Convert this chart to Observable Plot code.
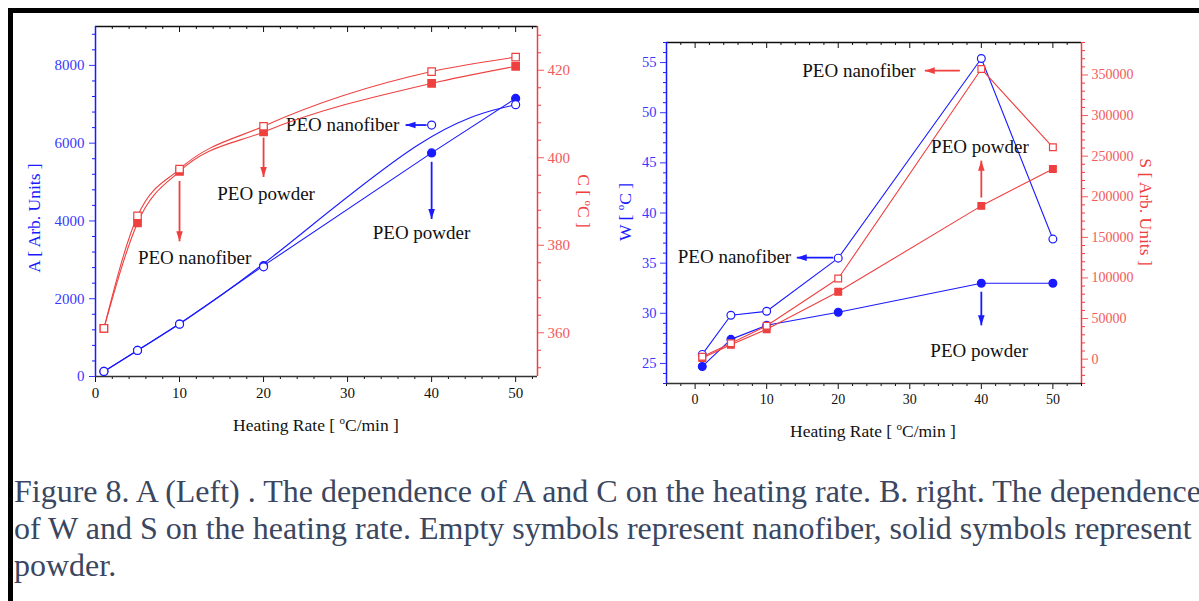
<!DOCTYPE html>
<html><head><meta charset="utf-8">
<script src="https://cdn.jsdelivr.net/npm/d3@7"></script>
<script src="https://cdn.jsdelivr.net/npm/@observablehq/plot@0.6"></script>
<style>
html,body{margin:0;padding:0;background:#fff;overflow:hidden;width:1199px;height:601px;}
#frame{position:absolute;left:8px;top:8px;width:1300px;height:700px;border-top:5px solid #000;border-left:5px solid #000;}
.panel{position:absolute;top:0;height:450px;}
.panel svg{position:absolute;left:0;top:0;}
#caption{position:absolute;left:14px;top:473px;font-family:"Liberation Serif";font-size:32px;line-height:37px;color:#3b4660;white-space:nowrap;}
</style></head><body>
<div id="frame"></div>
<div id="left" class="panel" style="left:0;width:600px"></div>
<div id="right" class="panel" style="left:600px;width:599px"></div>
<div id="caption"><div>Figure 8. A (Left) . The dependence of A and C on the heating rate. B. right. The dependence</div><div>of W and S on the heating rate. Empty symbols represent nanofiber, solid symbols represent</div><div>powder.</div></div>
<script>
// ---------- data ----------
const rates = [1, 5, 10, 20, 40, 50];
// left panel: A (left axis) and C (right axis)
const aNanofiber = [130, 670, 1345, 2820, 6466, 6990];
const aPowder    = [130, 670, 1350, 2850, 5750, 7150];
const cNanofiber = [361.0, 386.7, 397.4, 407.2, 419.7, 423.0];
const cPowder    = [361.0, 385.1, 396.9, 405.9, 417.0, 420.9];
// right panel: W (left axis) and S (right axis)
const wNanofiber = [25.9, 29.8, 30.2, 35.5, 55.4, 37.4];
const wPowder    = [24.7, 27.4, 28.8, 30.1, 33.0, 33.0];
const sNanofiber = [3000, 19700, 41100, 99300, 357400, 260900];
const sPowder    = [1500, 17700, 36900, 82900, 188800, 234300];

// ticks
const xTicks = [0, 10, 20, 30, 40, 50];
const aTicks = [0, 2000, 4000, 6000, 8000];
const cTicks = [360, 380, 400, 420];
const wTicks = [25, 30, 35, 40, 45, 50, 55];
const sTicks = [0, 50000, 100000, 150000, 200000, 250000, 300000, 350000];

// annotations (data coordinates of each layer)
const leftTextsA  = [{label: "PEO nanofiber", x: 29.4, y: 6466}, {label: "PEO powder", x: 38.8, y: 3690}];
const leftTextsC  = [{label: "PEO powder", x: 20.3, y: 391.7}, {label: "PEO nanofiber", x: 11.8, y: 377.0}];
const leftArrowsA = [{x1: 39.4, y1: 6466, x2: 36.9, y2: 6466, dir: "left"}, {x1: 40, y1: 5520, x2: 40, y2: 4050, dir: "down"}];
const leftArrowsC = [{x1: 20, y1: 404.6, x2: 20, y2: 395.6, dir: "down"}, {x1: 10, y1: 394.7, x2: 10, y2: 380.9, dir: "down"}];
const rightTextsW  = [{label: "PEO nanofiber", x: 5.5, y: 35.6}, {label: "PEO powder", x: 39.7, y: 26.2}];
const rightTextsS  = [{label: "PEO nanofiber", x: 22.9, y: 355300}, {label: "PEO powder", x: 39.8, y: 261800}];
const rightArrowsW = [{x1: 19.3, y1: 35.55, x2: 14.2, y2: 35.55, dir: "left"}, {x1: 40, y1: 32.15, x2: 40, y2: 28.8, dir: "down"}];
const rightArrowsS = [{x1: 37.0, y1: 355300, x2: 32.1, y2: 355300, dir: "left"}, {x1: 40, y1: 199000, x2: 40, y2: 244500, dir: "up"}];

// ---------- style ----------
const FONT = "Liberation Serif";
const BLUE = "#1a1aff", BLUE_T = "#3838ff";
const RED = "#ef4040", RED_T = "#f25a5a";
const tbl = ys => rates.map((x, i) => ({x, y: ys[i]}));
const minor = (lo, hi, step, majors) => d3.range(lo, hi + step / 2, step).filter(v => !majors.some(m => Math.abs(m - v) < 1e-9));

const heads = {
  left: {draw(c) { c.moveTo(0, 0); c.lineTo(10, -3.3); c.lineTo(10, 3.3); c.closePath(); }},
  down: {draw(c) { c.moveTo(0, 0); c.lineTo(-3.3, -10); c.lineTo(3.3, -10); c.closePath(); }},
  up:   {draw(c) { c.moveTo(0, 0); c.lineTo(-3.3, 10); c.lineTo(3.3, 10); c.closePath(); }}
};
function arrowMarks(arr, color) {
  return [
    Plot.link(arr, {x1: "x1", y1: "y1", x2: "x2", y2: "y2", stroke: color, strokeWidth: 1.8}),
    ...Object.keys(heads).map(dir => Plot.dot(arr.filter(d => d.dir === dir), {x: "x2", y: "y2", symbol: heads[dir], r: 4, fill: color, stroke: "none"}))
  ];
}
function textMarks(arr) {
  return Plot.text(arr, {x: "x", y: "y", text: "label", fontSize: 19, fill: "#111", fontFamily: FONT});
}
function seriesMarks(data, {color, symbol, open, curve, r}) {
  return [
    Plot.line(data, {x: "x", y: "y", stroke: color, strokeWidth: 1.1, curve}),
    Plot.dot(data, {x: "x", y: "y", symbol, r, stroke: color, strokeWidth: 1.2, fill: open ? "white" : color})
  ];
}
function xFrameMarks(xDomain, minors, innerH, ySide, fs) {
  return [
    Plot.axisX({ticks: xTicks, anchor: "bottom", tickSize: 6, tickPadding: 5, fontSize: fs, color: "#111", label: null, fontFamily: FONT}),
    Plot.axisX({ticks: minors, anchor: "bottom", tickSize: 3, tickFormat: () => "", color: "#111", label: null}),
    Plot.tickX(xTicks, {x: d => d, insetBottom: innerH - 6, stroke: "#111"}),
    Plot.tickX(minors, {x: d => d, insetBottom: innerH - 3, stroke: "#111"}),
    Plot.ruleY([ySide[0]], {stroke: "#333", strokeWidth: 1.5}),
    Plot.ruleY([ySide[1]], {stroke: "#111", strokeWidth: 1.5})
  ];
}
function layer(o) {
  return Plot.plot({
    width: o.width, height: o.height,
    marginLeft: o.ml, marginRight: o.mr, marginTop: o.mt, marginBottom: o.mb,
    x: {domain: o.xDomain, axis: null},
    y: {domain: o.yDomain, axis: null},
    style: {fontFamily: FONT, background: "transparent", overflow: "visible"},
    marks: o.marks
  });
}
function addTitle(svg, {x, y, rotate, color, parts}) {
  const t = d3.select(svg).append("text")
    .attr("transform", `translate(${x},${y}) rotate(${rotate})`)
    .attr("text-anchor", "middle").attr("dy", rotate ? "0.35em" : null)
    .attr("font-family", FONT).attr("font-size", 17.5).attr("fill", color);
  parts.forEach(p => {
    if (p.sup) t.append("tspan").attr("font-size", 11).attr("dy", -7).text(p.t);
    else t.append("tspan").attr("dy", p.after ? 7 : null).text(p.t);
  });
}
const fmt = d => String(d);

// ---------- left panel ----------
{
  const W = 600, H = 450, ml = 95, mr = 63, mt = 26, mb = 74, innerH = H - mt - mb;
  const xDomain = [0, 52.6], aDomain = [0, 9000], cDomain = [350, 430];
  const xMin = minor(0, 52, 2, xTicks);
  const blue = layer({width: W, height: H, ml, mr, mt, mb, xDomain, yDomain: aDomain, marks: [
    ...xFrameMarks(xDomain, xMin, innerH, aDomain, 15),
    Plot.ruleX([0], {stroke: BLUE, strokeWidth: 1.5}),
    Plot.axisY({ticks: aTicks, anchor: "left", tickSize: 6, tickPadding: 5, fontSize: 15, color: BLUE_T, label: null, fontFamily: FONT, tickFormat: fmt}),
    Plot.axisY({ticks: minor(0, 8800, 400, aTicks), anchor: "left", tickSize: 3, tickFormat: () => "", color: BLUE, label: null}),
    ...seriesMarks(tbl(aPowder), {color: BLUE, symbol: "circle", open: false, curve: "linear", r: 4}),
    ...seriesMarks(tbl(aNanofiber), {color: BLUE, symbol: "circle", open: true, curve: "basis", r: 4}),
    ...arrowMarks(leftArrowsA, BLUE),
    textMarks(leftTextsA)
  ]});
  const red = layer({width: W, height: H, ml, mr, mt, mb, xDomain, yDomain: cDomain, marks: [
    Plot.ruleX([xDomain[1]], {stroke: RED, strokeWidth: 1.5}),
    Plot.axisY({ticks: cTicks, anchor: "right", tickSize: 6, tickPadding: 4, fontSize: 15, color: RED_T, label: null, fontFamily: FONT, tickFormat: fmt}),
    Plot.axisY({ticks: minor(352, 428, 4, cTicks), anchor: "right", tickSize: 3, tickFormat: () => "", color: RED, label: null}),
    ...seriesMarks(tbl(cPowder), {color: RED, symbol: "square", open: false, curve: "monotone-x", r: 4.2}),
    ...seriesMarks(tbl(cNanofiber), {color: RED, symbol: "square", open: true, curve: "monotone-x", r: 4.2}),
    ...arrowMarks(leftArrowsC, RED),
    textMarks(leftTextsC)
  ]});
  addTitle(blue, {x: 34, y: 218, rotate: -90, color: BLUE, parts: [{t: "A [ Arb. Units ]"}]});
  addTitle(blue, {x: 316, y: 431, rotate: 0, color: "#111", parts: [{t: "Heating Rate [ "}, {t: "o", sup: true}, {t: "C/min ]", after: true}]});
  addTitle(red, {x: 584, y: 201, rotate: 90, color: RED, parts: [{t: "C [ "}, {t: "o", sup: true}, {t: "C ]", after: true}]});
  document.getElementById("left").append(blue, red);
}

// ---------- right panel ----------
{
  const W = 599, H = 450, ml = 66, mr = 118, mt = 42, mb = 67, innerH = H - mt - mb;
  const xDomain = [-4, 54], wDomain = [23, 57], sDomain = [-30000, 390000];
  const xMin = minor(-4, 54, 2, xTicks);
  const blue = layer({width: W, height: H, ml, mr, mt, mb, xDomain, yDomain: wDomain, marks: [
    ...xFrameMarks(xDomain, xMin, innerH, wDomain, 14),
    Plot.ruleX([xDomain[0]], {stroke: BLUE, strokeWidth: 1.5}),
    Plot.axisY({ticks: wTicks, anchor: "left", tickSize: 6, tickPadding: 4, fontSize: 14.5, color: BLUE_T, label: null, fontFamily: FONT, tickFormat: fmt}),
    Plot.axisY({ticks: minor(23, 57, 1, wTicks), anchor: "left", tickSize: 3, tickFormat: () => "", color: BLUE, label: null}),
    ...seriesMarks(tbl(wPowder), {color: BLUE, symbol: "circle", open: false, curve: "linear", r: 3.9}),
    ...seriesMarks(tbl(wNanofiber), {color: BLUE, symbol: "circle", open: true, curve: "linear", r: 3.9}),
    ...arrowMarks(rightArrowsW, BLUE),
    textMarks(rightTextsW)
  ]});
  const red = layer({width: W, height: H, ml, mr, mt, mb, xDomain, yDomain: sDomain, marks: [
    Plot.ruleX([xDomain[1]], {stroke: RED, strokeWidth: 1.5}),
    Plot.axisY({ticks: sTicks, anchor: "right", tickSize: 6, tickPadding: 4, fontSize: 14, color: RED_T, label: null, fontFamily: FONT, tickFormat: fmt}),
    Plot.axisY({ticks: minor(-30000, 390000, 10000, sTicks), anchor: "right", tickSize: 3, tickFormat: () => "", color: RED, label: null}),
    ...seriesMarks(tbl(sPowder), {color: RED, symbol: "square", open: false, curve: "linear", r: 3.8}),
    ...seriesMarks(tbl(sNanofiber), {color: RED, symbol: "square", open: true, curve: "linear", r: 3.8}),
    ...arrowMarks(rightArrowsS, RED),
    textMarks(rightTextsS)
  ]});
  addTitle(blue, {x: 24.5, y: 212, rotate: -90, color: BLUE, parts: [{t: "W [ "}, {t: "o", sup: true}, {t: "C ]", after: true}]});
  addTitle(blue, {x: 273, y: 437, rotate: 0, color: "#111", parts: [{t: "Heating Rate [ "}, {t: "o", sup: true}, {t: "C/min ]", after: true}]});
  addTitle(red, {x: 546.5, y: 212, rotate: 90, color: RED, parts: [{t: "S [ Arb. Units ]"}]});
  document.getElementById("right").append(blue, red);
}
</script>
</body></html>
